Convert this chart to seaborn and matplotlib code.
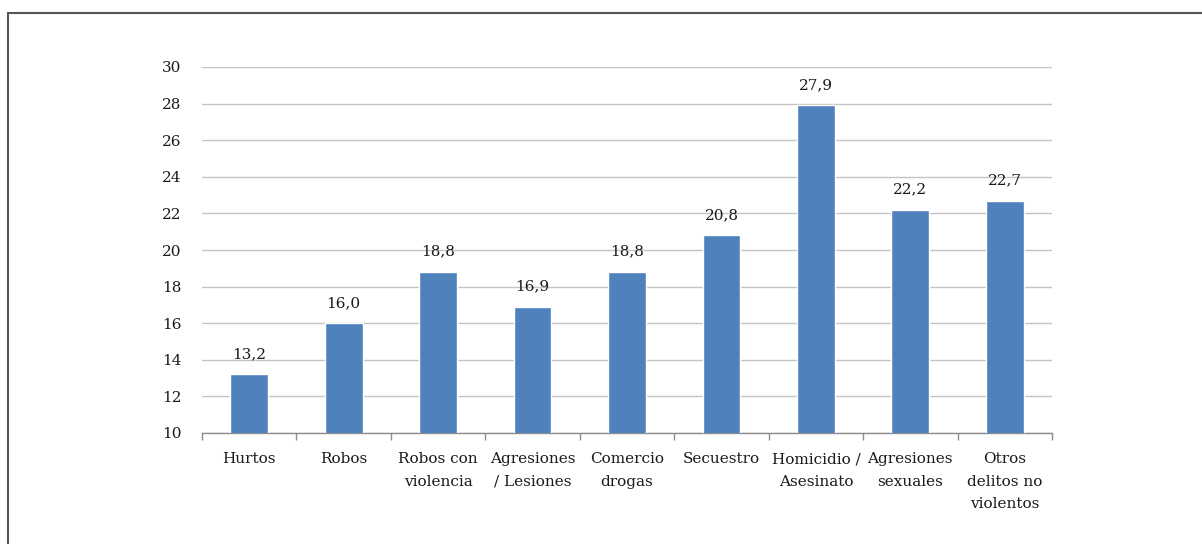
import matplotlib
matplotlib.use("Agg")
import matplotlib.pyplot as plt
import seaborn as sns
import pandas as pd
import numpy as np
from matplotlib.lines import Line2D

categories = ["Hurtos", "Robos", "Robos con\nviolencia", "Agresiones\n/ Lesiones",
              "Comercio\ndrogas", "Secuestro", "Homicidio /\nAsesinato",
              "Agresiones\nsexuales", "Otros\ndelitos no\nviolentos"]
values = [13.2, 16.0, 18.8, 16.9, 18.8, 20.8, 27.9, 22.2, 22.7]
yticks = [10, 12, 14, 16, 18, 20, 22, 24, 26, 28, 30]

sns.set_theme(style="white")
plt.rcParams['font.family'] = ['DejaVu Serif']

FS = 11
TXT = "#1a1a1a"

df = pd.DataFrame({"cat": categories, "val": values})

fig = plt.figure(figsize=(12.02, 5.44), dpi=100)
ax = fig.add_axes([202/1202, 1-433/544, (1052-202)/1202, (433-67)/544])

sns.barplot(data=df, x="cat", y="val", color="#4F81BD", saturation=1, width=0.40, ax=ax, zorder=3)

ax.set_ylim(10, 30)
ax.set_xlim(-0.5, len(categories)-0.5)
ax.set_yticks(yticks)
ax.set_yticklabels([str(t) for t in yticks], fontsize=FS, color=TXT)
ax.yaxis.grid(True, color="#C4C4C4", linewidth=1.0, zorder=0)
ax.xaxis.grid(False)
ax.set_axisbelow(True)
ax.set_xlabel("")
ax.set_ylabel("")

for s in ["top", "right", "left"]:
    ax.spines[s].set_visible(False)
ax.spines["bottom"].set_color("#8C8C8C")
ax.spines["bottom"].set_linewidth(1.0)

ax.set_xticks(np.arange(len(categories)))
ax.set_xticklabels(categories, fontsize=FS, color=TXT, linespacing=1.75, va="top")
ax.tick_params(axis="x", which="major", length=0, pad=14)
ax.set_xticks(np.arange(len(categories)+1) - 0.5, minor=True)
ax.tick_params(axis="x", which="minor", bottom=True, length=5, color="#8C8C8C", width=1, direction="out")
ax.tick_params(axis="y", length=0, pad=15)

for i, v in enumerate(values):
    ax.annotate(f"{v:.1f}".replace(".", ","), (i, v), xytext=(0, 9.5), textcoords="offset points",
                ha="center", va="bottom", fontsize=FS, color=TXT)

# figure frame (left and top edges)
fig.add_artist(Line2D([8/1202, 8/1202], [0, 1-13/544], transform=fig.transFigure,
                      color="#555555", linewidth=1.5))
fig.add_artist(Line2D([8/1202, 1], [1-13/544, 1-13/544], transform=fig.transFigure,
                      color="#555555", linewidth=1.5))

fig.savefig("out.png", dpi=100, facecolor="white")
